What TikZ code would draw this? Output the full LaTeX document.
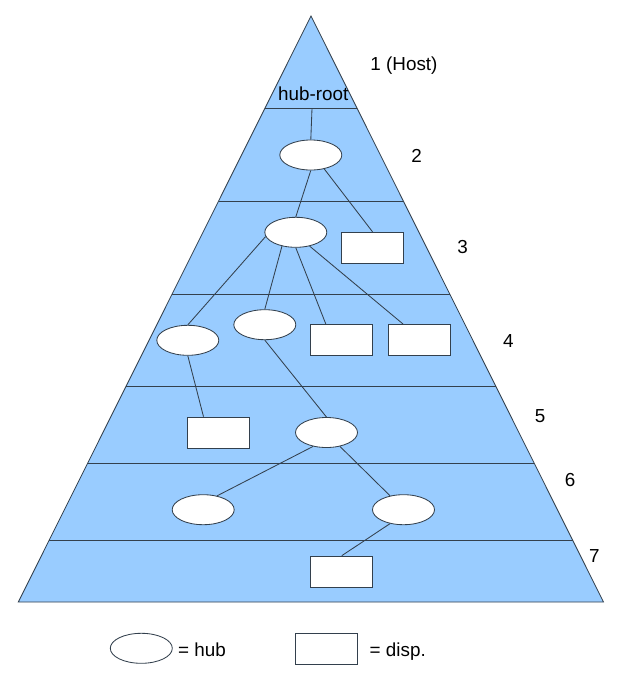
\documentclass[tikz,border=0pt]{standalone}
\usepackage{fontspec}
\setmainfont{Liberation Sans}
\usepackage{xcolor}
\usepackage{tikz}
\usetikzlibrary{shapes.geometric, calc}

\definecolor{layerblue}{HTML}{99CCFF}
\definecolor{edgegray}{HTML}{33404D}

\begin{document}
\begin{tikzpicture}[
          x=0.025cm, y=-0.025cm,
          line width=0.6pt,
          wire/.style={draw=edgegray},
          lbl/.style={font=\fontsize{13.4}{16}\selectfont, inner sep=0pt},
          hub/.style={ellipse, draw=edgegray, fill=white, minimum width=1.55cm, minimum height=0.75cm, inner sep=0pt},
          disp/.style={rectangle, draw=edgegray, fill=white, minimum width=1.55cm, minimum height=0.78cm, inner sep=0pt}
        ]
          \useasboundingbox (0,0) rectangle (628,680);

          % pyramid
          \coordinate (apex) at (311,16);
          \coordinate (bl) at (18.3,602);
          \coordinate (br) at (603.5,602);
          \fill[layerblue] (apex) -- (bl) -- (br) -- cycle;
          \draw[wire] ($(apex)!0.1578!(bl)$) -- ($(apex)!0.1578!(br)$);
          \draw[wire] ($(apex)!0.3157!(bl)$) -- ($(apex)!0.3157!(br)$);
          \draw[wire] ($(apex)!0.4744!(bl)$) -- ($(apex)!0.4744!(br)$);
          \draw[wire] ($(apex)!0.6314!(bl)$) -- ($(apex)!0.6314!(br)$);
          \draw[wire] ($(apex)!0.7633!(bl)$) -- ($(apex)!0.7633!(br)$);
          \draw[wire] ($(apex)!0.8954!(bl)$) -- ($(apex)!0.8954!(br)$);
          \draw[wire] (apex) -- (bl) -- (br) -- cycle;

          % level numbers
          \node[lbl, anchor=base] (l1) at (404,70) {1 (Host)};
          \node[lbl] (l2) at (416.7,155.7) {2};
          \node[lbl] (l3) at (462.7,247.3) {3};
          \node[lbl] (l4) at (508.3,340.7) {4};
          \node[lbl] (l5) at (540,416) {5};
          \node[lbl] (l6) at (570,480) {6};
          \node[lbl] (l7) at (594.3,555.7) {7};

          % tree
          \node[lbl, anchor=base] (hubroot) at (313.3,100) {hub-root};
          \coordinate (rootpin) at (312,108.5);
          \node[hub] (e2) at (310.8,155) {};
          \node[hub] (e3) at (295.8,232.3) {};
          \node[disp] (r3) at (372.5,247.8) {};
          \node[hub] (e4a) at (187.8,340.3) {};
          \node[hub] (e4b) at (264.8,324.7) {};
          \node[disp] (r4a) at (341.8,340) {};
          \node[disp] (r4b) at (419,340) {};
          \node[disp] (r5) at (218.5,432.7) {};
          \node[hub] (e5) at (326.5,432.5) {};
          \node[hub] (e6a) at (203.2,509.7) {};
          \node[hub] (e6b) at (403.5,509.7) {};
          \node[disp] (r7) at (341.8,571.7) {};

          \draw[wire] (rootpin) -- (e2.north);
          \draw[wire] (e2.south) -- (e3.north);
          \draw[wire] (e2.-46) -- (r3.north);
          \draw[wire] (e3.188) -- (e4a.north);
          \draw[wire] (e3.-135) -- (e4b.north);
          \draw[wire] (e3.south) -- ($(r4a.north)+(-16,0)$);
          \draw[wire] (e3.-45) -- ($(r4b.north)+(-16,0)$);
          \draw[wire] (e4a.south) -- ($(r5.north)+(-15,0)$);
          \draw[wire] (e4b.south) -- (e5.north);
          \draw[wire] (e5.-134) -- (e6a.45);
          \draw[wire] (e5.-46) -- (e6b.134);
          \draw[wire] (e6b.-134) -- (r7.north);

          % legend
          \node[hub] (keyhub) at (141.3,648.3) {};
          \node[lbl, anchor=base west] (keyhubtxt) at (177.7,656) {= hub};
          \node[disp] (keydisp) at (326.5,648.7) {};
          \node[lbl, anchor=base west] (keydisptxt) at (369.3,656) {= disp.};
        \end{tikzpicture}
\end{document}
